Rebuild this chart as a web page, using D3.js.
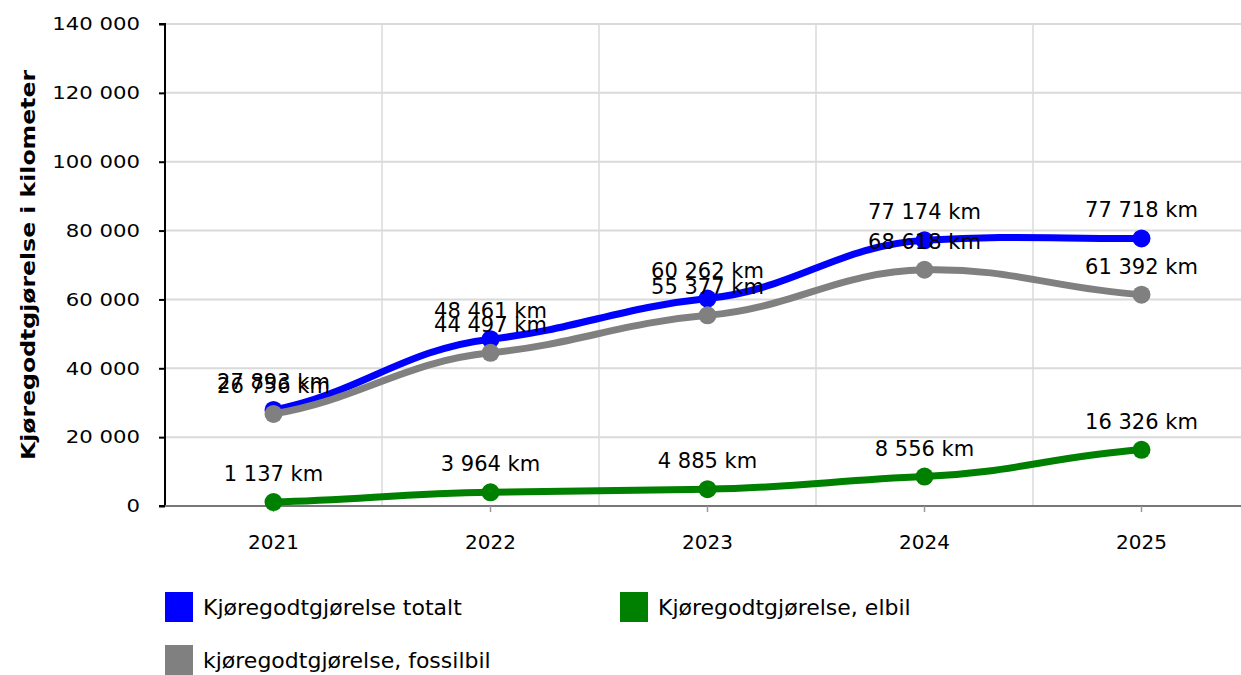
<!DOCTYPE html>
<html><head><meta charset="utf-8">
<script src="https://cdn.jsdelivr.net/npm/d3@7"></script>
<style>
html,body{margin:0;padding:0;background:#fff;}
svg{display:block;font-family:"DejaVu Sans",Verdana,sans-serif;}
</style></head>
<body><svg id="chart" width="1241" height="675"></svg>
<script>
const years = ["2021","2022","2023","2024","2025"];
const totalt = [27893, 48461, 60262, 77174, 77718];
const fossil = [26756, 44497, 55377, 68618, 61392];
const elbil = [1137, 3964, 4885, 8556, 16326];
const seriesNames = ["Kjøregodtgjørelse totalt", "kjøregodtgjørelse, fossilbil", "Kjøregodtgjørelse, elbil"];
const yTicks = [0, 20000, 40000, 60000, 80000, 100000, 120000, 140000];
const yTitle = "Kjøregodtgjørelse i kilometer";

(function(){
const series = [
  {name: seriesNames[0], values: totalt, color: "#0000ff"},
  {name: seriesNames[1], values: fossil, color: "#808080"},
  {name: seriesNames[2], values: elbil, color: "#008000"}
];

// smooth curve with reduced tangents (wavy spline look)
function wavyCurve(context) {
  let pts = [];
  return {
    areaStart(){}, areaEnd(){},
    lineStart(){ pts = []; },
    point(x, y){ pts.push([+x, +y]); },
    lineEnd(){
      const n = pts.length;
      if (!n) return;
      const k = 0.45, kEnd = 0.6, h = 0.4;
      const m = pts.map((p, i) => {
        if (n < 2) return 0;
        if (i === 0) return kEnd * (pts[1][1]-p[1])/(pts[1][0]-p[0]);
        if (i === n-1) return kEnd * (p[1]-pts[i-1][1])/(p[0]-pts[i-1][0]);
        return k * (pts[i+1][1]-pts[i-1][1])/(pts[i+1][0]-pts[i-1][0]);
      });
      context.moveTo(pts[0][0], pts[0][1]);
      for (let i = 1; i < n; i++) {
        const [x0, y0] = pts[i-1], [x1, y1] = pts[i];
        const dx = (x1 - x0) * h;
        context.bezierCurveTo(x0 + dx, y0 + m[i-1]*dx, x1 - dx, y1 - m[i]*dx, x1, y1);
      }
    }
  };
}

const svg = d3.select("#chart");
const pLeft = 165, pRight = 1241, pTop = 24, pBottom = 506;
const x = d3.scaleBand().domain(years).range([pLeft, pLeft + 5*217]);
const y = d3.scaleLinear().domain([0, 140000]).range([pBottom, pTop]);
const fmt = v => d3.format(",")(v).replace(/,/g, " ");
const cx = d => x(d) + x.bandwidth()/2;

// grid
svg.append("g").selectAll("line").data(yTicks.filter(t=>t>0)).join("line")
  .attr("x1", pLeft).attr("x2", pRight).attr("y1", d=>y(d)).attr("y2", d=>y(d))
  .attr("stroke", "#dadada").attr("stroke-width", 2);
svg.append("g").selectAll("line").data(years.slice(1)).join("line")
  .attr("x1", d=>x(d)).attr("x2", d=>x(d)).attr("y1", pTop).attr("y2", pBottom)
  .attr("stroke", "#dadada").attr("stroke-width", 1.5);

// y axis
const yAxis = d3.axisLeft(y).tickValues(yTicks).tickSize(6).tickPadding(19).tickFormat(fmt);
const gy = svg.append("g").attr("transform", `translate(${pLeft},0)`).call(yAxis);
gy.select(".domain").attr("stroke", "#000").attr("stroke-width", 2).attr("d", `M-6,${pTop}H0V${pBottom}H-6`);
gy.selectAll(".tick line").attr("stroke", "#000").attr("stroke-width", 2);
gy.selectAll(".tick text").attr("font-size", 18).attr("fill", "#000")
  .attr("font-family", "DejaVu Sans")
  .each(function(){
    const len = this.getComputedTextLength();
    d3.select(this).attr("textLength", len * 1.18).attr("lengthAdjust", "spacingAndGlyphs");
  });

// x axis
const xAxis = d3.axisBottom(x).tickSize(6).tickPadding(23);
const gx = svg.append("g").attr("transform", `translate(0,${pBottom})`).call(xAxis);
gx.select(".domain").attr("stroke", "#777").attr("stroke-width", 2).attr("d", `M${pLeft},0H${pRight}`);
gx.selectAll(".tick line").attr("stroke", "#999").attr("stroke-width", 1.5);
gx.selectAll(".tick text").attr("font-size", 20).attr("fill", "#000")
  .attr("font-family", "DejaVu Sans");

// y title
svg.append("text").attr("transform", "translate(35,265) rotate(-90)")
  .attr("text-anchor", "middle").attr("font-weight", "bold").attr("font-size", 20)
  .attr("textLength", 390).attr("lengthAdjust", "spacingAndGlyphs")
  .attr("fill", "#000").text(yTitle);

// lines
const line = d3.line().x((d,i)=>cx(years[i])).y(d=>y(d)).curve(wavyCurve);
series.forEach(s => {
  const g = svg.append("g");
  g.append("path").attr("d", line(s.values)).attr("fill", "none")
    .attr("stroke", s.color).attr("stroke-width", 7).attr("stroke-linejoin", "round");
  g.selectAll("circle").data(s.values).join("circle")
    .attr("cx", (d,i)=>cx(years[i])).attr("cy", d=>y(d)).attr("r", 9).attr("fill", s.color);
});
// labels
series.forEach(s => {
  svg.append("g").selectAll("text").data(s.values).join("text")
    .attr("x", (d,i)=>cx(years[i])).attr("y", d=>y(d) - 21)
    .attr("text-anchor", "middle").attr("font-size", 21).attr("fill", "#000")
    .text(d => fmt(d) + " km");
});

// legend
const legendItems = [
  {s: series[0], x: 165, y: 592},
  {s: series[2], x: 620, y: 592},
  {s: series[1], x: 165, y: 645}
];
const lg = svg.append("g");
legendItems.forEach(it => {
  lg.append("rect").attr("x", it.x).attr("y", it.y).attr("width", 28).attr("height", 30).attr("fill", it.s.color);
  lg.append("text").attr("x", it.x + 38).attr("y", it.y + 23).attr("font-size", 22).attr("fill", "#000").text(it.s.name);
});
})();
</script></body></html>
